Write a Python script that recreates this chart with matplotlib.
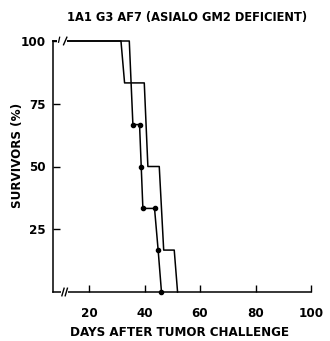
import matplotlib
matplotlib.use('Agg')
import matplotlib.pyplot as plt
from matplotlib import font_manager as fm
from matplotlib.patches import Rectangle

# ---- data ----
title = "1A1 G3 AF7 (ASIALO GM2 DEFICIENT)"
xlabel = "DAYS AFTER TUMOR CHALLENGE"
ylabel = "SURVIVORS (%)"
xticks = [20, 40, 60, 80, 100]
yticks = [25, 50, 75, 100]

# group with markers
days_a = [7, 34.5, 35.8, 38.2, 38.8, 39.4, 43.6, 44.9, 46.1]
surv_a = [100, 100, 66.7, 66.7, 50, 33.3, 33.3, 16.7, 0]
mark_a = [2, 3, 4, 5, 6, 7, 8]  # vertices carrying a dot

# group without markers
days_b = [7, 31.5, 32.8, 39.9, 41.2, 45.3, 46.9, 50.7, 51.9]
surv_b = [100, 100, 83.3, 83.3, 50, 50, 16.7, 16.7, 0]

# ---- fonts ----
names = {f.name for f in fm.fontManager.ttflist}
if 'Liberation Sans Narrow' in names:
    fam = ['Liberation Sans Narrow', 'DejaVu Sans']
    stretch = 'normal'
else:
    fam = ['DejaVu Sans']
    stretch = 'condensed'
plt.rcParams['font.family'] = fam
plt.rcParams['font.weight'] = 'bold'
plt.rcParams['font.stretch'] = stretch

W, H = 330, 341
fig = plt.figure(figsize=(W / 100, H / 100), dpi=100)
ax = fig.add_axes([53 / W, (H - 292) / H, (311 - 53) / W, (292 - 41) / H])

lw = 1.1
ax.plot(days_b, surv_b, color='black', lw=lw, clip_on=False, zorder=3)
ax.plot(days_a, surv_a, color='black', lw=lw, clip_on=False, zorder=3,
        marker='o', markersize=3.0, markevery=mark_a)

ax.set_xlim(7, 100)
ax.set_ylim(0, 100)
ax.set_xticks(xticks)
ax.set_yticks(yticks)
ax.set_xticklabels([str(v) for v in xticks])
ax.set_yticklabels([str(v) for v in yticks])
ax.tick_params(axis='x', direction='in', length=5, width=1.0, pad=11, labelsize=9.5)
ax.tick_params(axis='y', direction='in', length=5, width=1.0, pad=5, labelsize=9.5)
for s in ['top', 'right']:
    ax.spines[s].set_visible(False)
for s in ['left', 'bottom']:
    ax.spines[s].set_linewidth(1.1)

# axis break on the top line and the x axis
ax.add_patch(Rectangle((8.6, 97.5), 3.3, 5, facecolor='white', edgecolor='none',
                       clip_on=False, zorder=4))
ax.plot([9.0, 9.4], [99.5, 101.5], color='black', lw=0.9, clip_on=False, zorder=5)
ax.plot([10.8, 12.0], [98.5, 101.5], color='black', lw=1.0, clip_on=False, zorder=5)
ax.add_patch(Rectangle((9.9, -2.5), 2.4, 5, facecolor='white', edgecolor='none',
                       clip_on=False, zorder=4))
ax.plot([10.2, 11.0], [-1.5, 1.5], color='black', lw=1.0, clip_on=False, zorder=5)
ax.plot([11.4, 12.2], [-1.5, 1.5], color='black', lw=1.0, clip_on=False, zorder=5)

fig.text(187 / W, 1 - 18 / H, title, ha='center', va='center', fontsize=9.2)
fig.text(180 / W, 1 - 333 / H, xlabel, ha='center', va='center', fontsize=9.5)
fig.text(18 / W, 1 - 155 / H, ylabel, ha='center', va='center', rotation=90, fontsize=9.5)

fig.savefig('out.png', dpi=100)
